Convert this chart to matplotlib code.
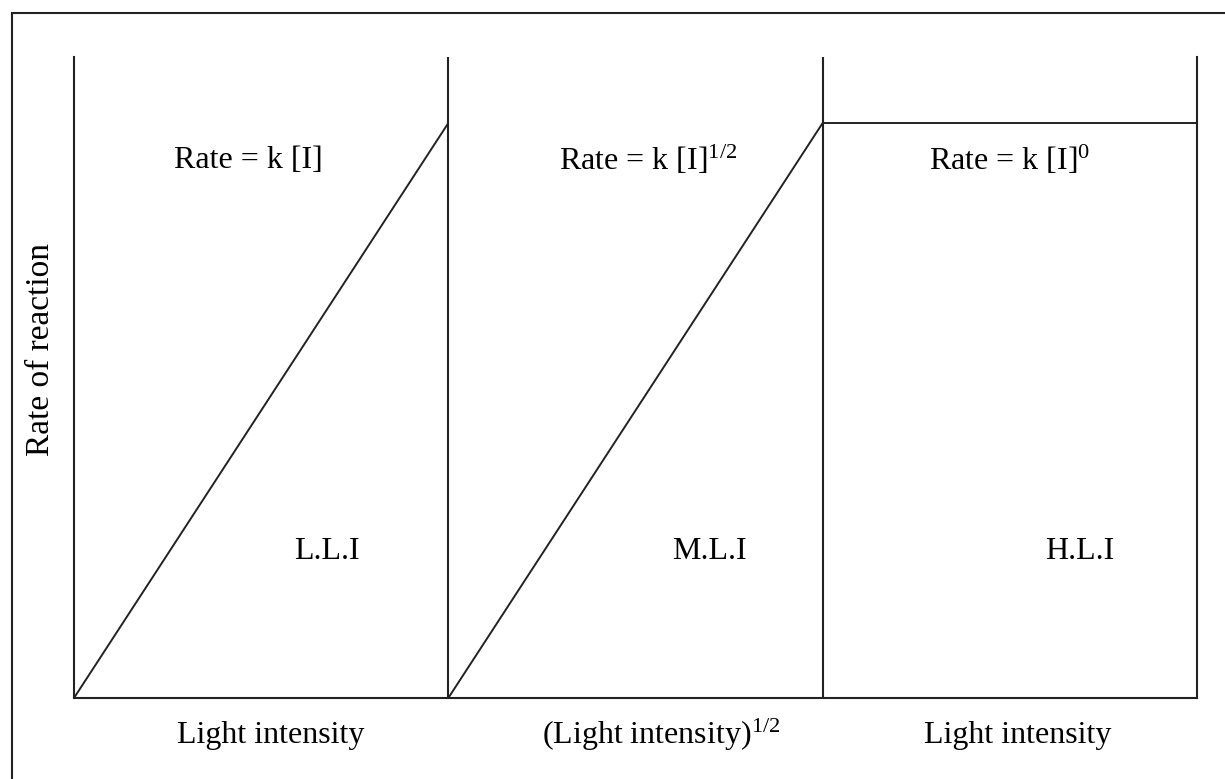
import matplotlib.pyplot as plt
from matplotlib.patches import Rectangle

plt.rcParams["font.family"] = ["Liberation Serif", "DejaVu Serif"]
plt.rcParams["mathtext.fontset"] = "custom"
plt.rcParams["mathtext.rm"] = "Liberation Serif"
plt.rcParams["mathtext.it"] = "Liberation Serif:italic"

# Three regimes: low, medium, high light intensity
regimes = ["L.L.I", "M.L.I", "H.L.I"]
rate_laws = ["Rate = k [I]", r"Rate = k [I]$^{\mathrm{1/2}}$", r"Rate = k [I]$^{\mathrm{0}}$"]
x_labels = ["Light intensity", r"(Light intensity)$^{\mathrm{1/2}}$", "Light intensity"]

# rate curves in each panel (x in panel units, y as fraction of axis height)
panel_x = [[0, 1], [1, 2], [2, 3]]
panel_rate = [[0, 0.897], [0, 0.897], [0.897, 0.897]]

# label positions in panel units
law_x = [0.465, 1.533, 2.50]
regime_x = [0.676, 1.697, 2.688]
xlabel_x = [0.526, 1.568, 2.52]

line_col = "#222222"
fs = 23

fig = plt.figure(figsize=(12.25, 7.79), dpi=100)
ax = fig.add_axes([0.0604, 0.104, 0.9167, 0.8228])
ax.set_xlim(0, 3)
ax.set_ylim(0, 1)
ax.set_xticks([])
ax.set_yticks([])
ax.spines["top"].set_visible(False)
for s in ["left", "right", "bottom"]:
    ax.spines[s].set_linewidth(1.5)
    ax.spines[s].set_color(line_col)

for xd in [1, 2]:
    ax.axvline(xd, color=line_col, lw=1.5)

for xs, ys in zip(panel_x, panel_rate):
    ax.plot(xs, ys, color=line_col, lw=1.4, solid_capstyle="butt")

for i in range(3):
    ax.text(law_x[i], 0.839, rate_laws[i], ha="center", va="center", fontsize=fs)
    ax.text(regime_x[i], 0.228, regimes[i], ha="center", va="center", fontsize=fs)
    ax.text(xlabel_x[i], -0.058, x_labels[i], ha="center", va="center",
            fontsize=fs, clip_on=False)

ax.text(-0.09, 0.543, "Rate of reaction", rotation=90, ha="center", va="center",
        fontsize=fs + 1, clip_on=False)

# outer frame around the whole drawing (runs off the right and bottom edges)
fig.patches.append(Rectangle((12 / 1225, -0.1), 1.2, 1.1 - 13 / 779,
                             transform=fig.transFigure, fill=False,
                             edgecolor=line_col, lw=1.5))

fig.savefig("out.png", dpi=100)
